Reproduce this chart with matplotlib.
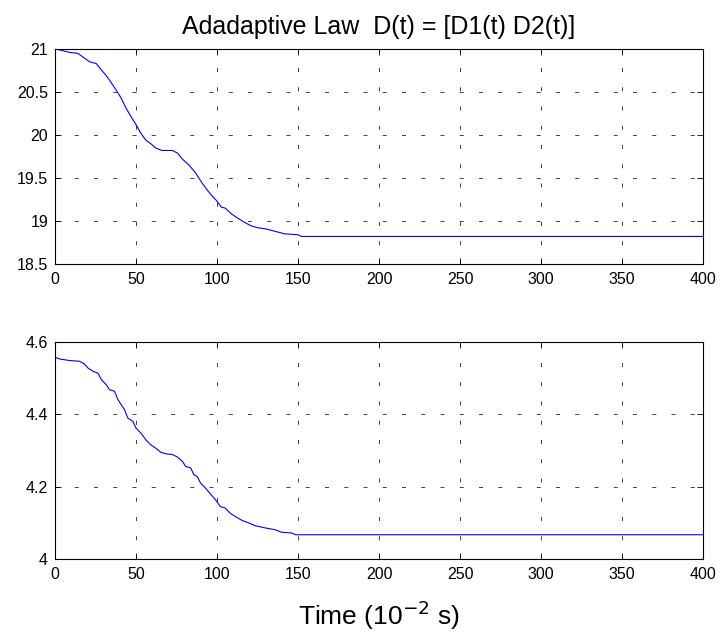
#!/usr/bin/env python3
"""Adaptive law D(t) = [D1(t) D2(t)] in two stacked panels, MATLAB look."""

import matplotlib
matplotlib.use("Agg")
import matplotlib.pyplot as plt

# time axis in units of 10^-2 s
T1 = [0, 5, 9, 14, 17, 21.4, 25.5, 27.5, 31.6, 35.7, 37.8, 40.8, 43.9, 47, 50,
      53, 56, 59, 62, 66, 72.4, 75.5, 78.6, 82.7, 86.7, 90.8, 93.9, 97, 100,
      102.7, 105, 109, 113, 117.3, 121.4, 125.5, 129.6, 135.7, 141.8, 150,
      152, 400]
D1 = [21.0, 20.98, 20.96, 20.95, 20.91, 20.85, 20.83, 20.78, 20.69, 20.58,
      20.52, 20.43, 20.31, 20.21, 20.12, 20.02, 19.94, 19.90, 19.85, 19.82,
      19.82, 19.79, 19.72, 19.65, 19.56, 19.44, 19.36, 19.29, 19.23, 19.16,
      19.15, 19.08, 19.03, 18.98, 18.94, 18.92, 18.91, 18.88, 18.85, 18.84,
      18.82, 18.82]

T2 = [0, 3, 9, 15, 18, 20.4, 23.5, 26.5, 28.6, 31.6, 33.7, 36.7, 38.8, 40.8,
      42.9, 44.9, 48, 50, 53, 56, 59, 62, 65.3, 68.4, 72.4, 75.5, 78.6, 80.6,
      83.7, 85.7, 87.8, 89.8, 92.9, 95.9, 99, 102, 105, 108, 111, 115.3,
      119.4, 123.5, 129.6, 135.7, 139.8, 145.9, 148.6, 400]
D2 = [4.558, 4.553, 4.549, 4.547, 4.540, 4.528, 4.519, 4.514, 4.496, 4.482,
      4.468, 4.464, 4.441, 4.427, 4.413, 4.390, 4.381, 4.362, 4.348, 4.330,
      4.316, 4.307, 4.295, 4.291, 4.289, 4.282, 4.270, 4.256, 4.252, 4.233,
      4.228, 4.210, 4.196, 4.180, 4.164, 4.145, 4.141, 4.127, 4.118, 4.107,
      4.100, 4.092, 4.086, 4.081, 4.074, 4.072, 4.067, 4.067]

XTICKS = [0, 50, 100, 150, 200, 250, 300, 350, 400]
YTICKS1 = [18.5, 19, 19.5, 20, 20.5, 21]
YLABELS1 = ["18.5", "19", "19.5", "20", "20.5", "21"]
YTICKS2 = [4, 4.2, 4.4, 4.6]
YLABELS2 = ["4", "4.2", "4.4", "4.6"]

plt.rcParams["font.family"] = ["Liberation Sans", "DejaVu Sans"]


def style_axes(ax, yticks, ylabels):
    ax.set_xlim(0, 400)
    ax.set_xticks(XTICKS)
    ax.set_xticklabels([str(v) for v in XTICKS])
    ax.set_ylim(yticks[0], yticks[-1])
    ax.set_yticks(yticks)
    ax.set_yticklabels(ylabels)
    ax.tick_params(direction="in", length=4, width=0.6, labelsize=11.5,
                   top=True, right=True)
    ax.tick_params(axis="x", pad=6)
    ax.tick_params(axis="y", pad=5)
    # MATLAB ':' grid: short dashes, wide gaps
    ax.grid(True, color="#222222", linestyle=(0, (4.8, 18.3)), linewidth=0.6)
    for sp in ax.spines.values():
        sp.set_linewidth(0.8)


fig = plt.figure(figsize=(7.25, 6.37), dpi=100)
ax1 = fig.add_axes([0.0759, 0.5856, 0.894, 0.3375])
ax2 = fig.add_axes([0.0759, 0.1225, 0.894, 0.3405])

ax1.plot(T1, D1, color="#0000ff", linewidth=0.8)
ax2.plot(T2, D2, color="#0000ff", linewidth=0.8)

style_axes(ax1, YTICKS1, YLABELS1)
style_axes(ax2, YTICKS2, YLABELS2)

ax1.set_title("Adadaptive Law  D(t) = [D1(t) D2(t)]", fontsize=18, pad=11)
ax2.set_xlabel("Time (10$^{-2}$ s)", fontsize=19, labelpad=12)

fig.savefig("out.png", dpi=100)
